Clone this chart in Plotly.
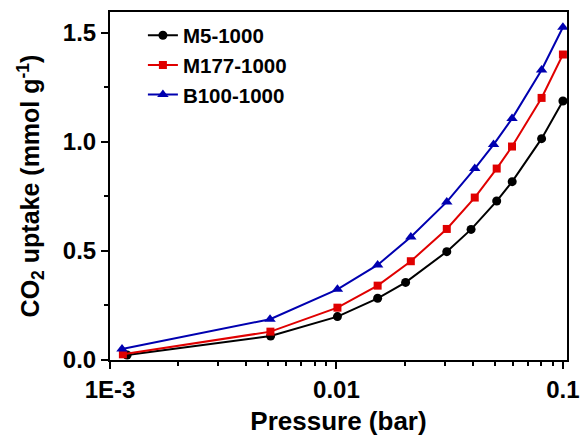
import plotly.graph_objects as go

m5_x = [0.00119, 0.00512, 0.0101, 0.0152, 0.0202, 0.0307, 0.0393, 0.0510, 0.0597, 0.0805, 0.100]
m5_y = [0.023, 0.11, 0.199, 0.283, 0.356, 0.497, 0.599, 0.729, 0.818, 1.015, 1.188]
m177_x = [0.00114, 0.00511, 0.0101, 0.0152, 0.0213, 0.0307, 0.0408, 0.0510, 0.0596, 0.0805, 0.100]
m177_y = [0.026, 0.13, 0.24, 0.341, 0.453, 0.601, 0.745, 0.878, 0.979, 1.202, 1.401]
b100_x = [0.00113, 0.00509, 0.0101, 0.0152, 0.0213, 0.0307, 0.0408, 0.0494, 0.0596, 0.0805, 0.100]
b100_y = [0.05, 0.187, 0.324, 0.436, 0.564, 0.725, 0.878, 0.988, 1.107, 1.330, 1.526]

x_tickvals = [0.001, 0.01, 0.1]
x_ticktext = ["1E-3", "0.01", "0.1"]
x_minor = [k * 10 ** e for e in (-3, -2) for k in range(2, 10)]
y_tickvals = [0.0, 0.5, 1.0, 1.5]
y_ticktext = ["0.0", "0.5", "1.0", "1.5"]
y_minor = [0.25, 0.75, 1.25]

FONT = "Liberation Sans, Arial, sans-serif"

fig = go.Figure()
series = [
    ("M5-1000", m5_x, m5_y, "black", "circle", 9),
    ("M177-1000", m177_x, m177_y, "#e00000", "square", 8),
    ("B100-1000", b100_x, b100_y, "#0000b0", "triangle-up", 10),
]
for name, xs, ys, col, sym, sz in series:
    fig.add_trace(go.Scatter(
        x=xs, y=ys, name=name, mode="lines+markers",
        line=dict(color=col, width=2),
        marker=dict(symbol=sym, size=sz, color=col),
    ))

fig.update_layout(
    width=581, height=437,
    margin=dict(l=110, r=14, t=12, b=77),
    paper_bgcolor="white", plot_bgcolor="white",
    font=dict(family=FONT, size=16, color="black"),
    showlegend=True,
    legend=dict(
        x=0.072, y=0.99, xanchor="left", yanchor="top",
        bgcolor="rgba(0,0,0,0)", borderwidth=0,
        font=dict(family=FONT, size=20.5, color="black", weight="bold"),
        tracegroupgap=0,
    ),
    xaxis=dict(
        type="log", range=[-3, -0.982], automargin=False,
        showline=True, linecolor="black", linewidth=2, mirror=True,
        showgrid=False, zeroline=False,
        ticks="outside", ticklen=7, tickwidth=2, tickcolor="black",
        tickvals=x_tickvals, ticktext=x_ticktext,
        tickfont=dict(family=FONT, size=24, weight="bold"),
        minor=dict(tickvals=x_minor, ticks="outside", ticklen=4, tickwidth=1.5, tickcolor="black", showgrid=False),
        title=dict(text="Pressure (bar)", font=dict(family=FONT, size=26, weight="bold"), standoff=10),
    ),
    yaxis=dict(
        range=[0, 1.596], automargin=False,
        showline=True, linecolor="black", linewidth=2, mirror=True,
        showgrid=False, zeroline=False,
        ticks="outside", ticklen=7, tickwidth=2, tickcolor="black",
        tickvals=y_tickvals, ticktext=y_ticktext,
        tickfont=dict(family=FONT, size=24, weight="bold"),
        minor=dict(tickvals=y_minor, ticks="outside", ticklen=4, tickwidth=1.5, tickcolor="black", showgrid=False),
        title=dict(text="CO<sub>2</sub> uptake (mmol g<sup>-1</sup>)", font=dict(family=FONT, size=25, weight="bold"), standoff=16),
    ),
)

fig.write_html("out.html")
